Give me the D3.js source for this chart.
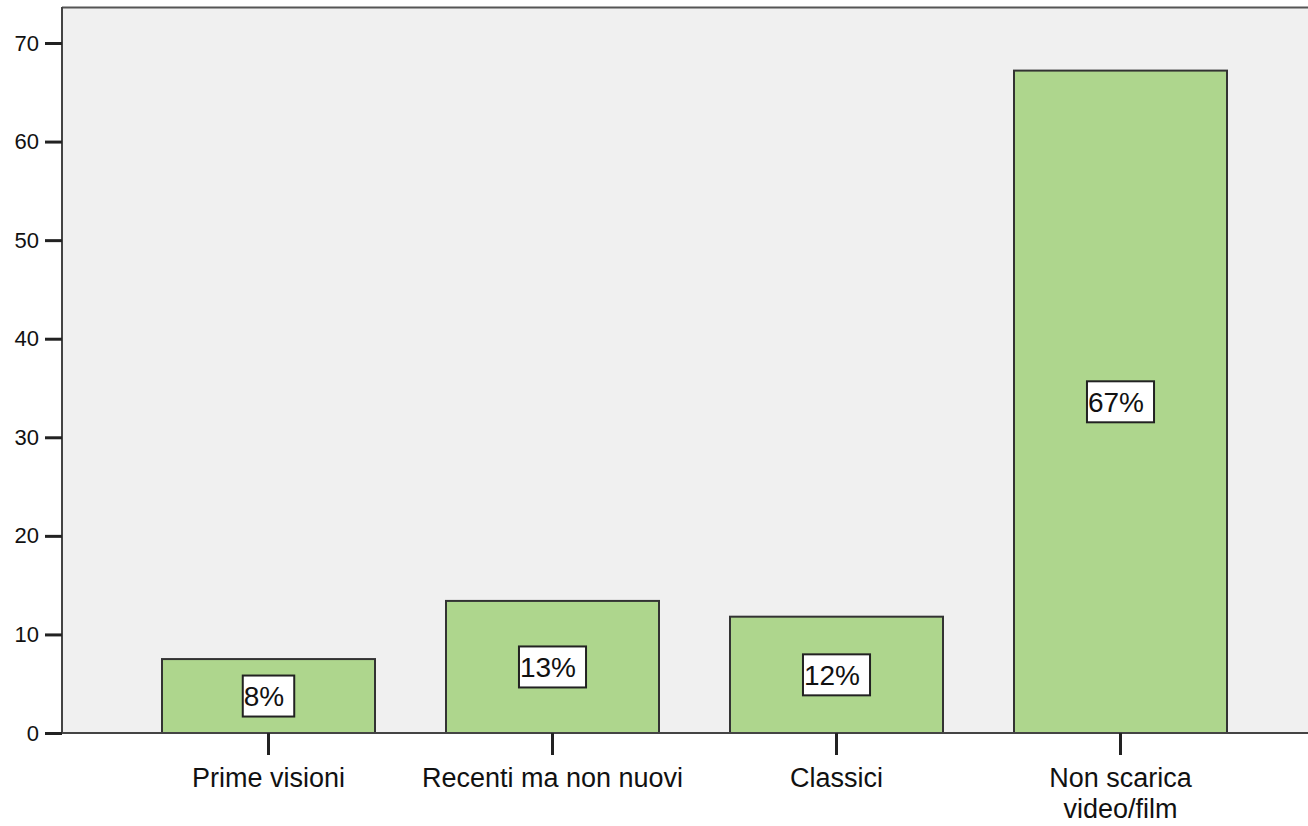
<!DOCTYPE html>
<html><head><meta charset="utf-8">
<script src="https://cdn.jsdelivr.net/npm/d3@7"></script>
<style>
html,body{margin:0;padding:0;background:#fff;}
svg{display:block;font-family:"Liberation Sans",Arial,sans-serif;}
</style></head>
<body>
<svg id="c" width="1308" height="826"></svg>
<script>
const categories = ["Prime visioni", "Recenti ma non nuovi", "Classici", "Non scarica\nvideo/film"];
const values = [7.5, 13.4, 11.8, 67.2];
const pctLabels = ["8%", "13%", "12%", "67%"];
const yTicks = [0, 10, 20, 30, 40, 50, 60, 70];

const svg = d3.select("#c");
const plot = {left: 62, top: 7, right: 1310, bottom: 733};

const x = d3.scaleBand().domain(categories).range([126.5, 1262.5]).paddingInner(0.25).paddingOuter(0.125);
const y = d3.scaleLinear().domain([0, 70]).range([733, 43]);

// background
svg.append("rect").attr("x", plot.left).attr("y", plot.top)
  .attr("width", plot.right - plot.left).attr("height", plot.bottom - plot.top)
  .attr("fill", "#f0f0f0");
svg.append("line").attr("x1", plot.left).attr("x2", plot.right).attr("y1", plot.top + 0.5).attr("y2", plot.top + 0.5)
  .attr("stroke", "#555").attr("stroke-width", 2);

// bars
svg.selectAll("rect.bar").data(categories).join("rect").attr("class", "bar")
  .attr("x", d => x(d)).attr("width", x.bandwidth())
  .attr("y", (d, i) => y(values[i])).attr("height", (d, i) => y(0) - y(values[i]))
  .attr("fill", "#aed68d").attr("stroke", "#333").attr("stroke-width", 2);

// y axis
const yAxis = d3.axisLeft(y).tickValues(yTicks).tickSize(17).tickPadding(6).tickFormat(d3.format("d"));
const ya = svg.append("g").attr("transform", `translate(${plot.left},0)`).call(yAxis);
ya.select(".domain").attr("d", `M0,${plot.top}V${plot.bottom}`).attr("stroke", "#444").attr("stroke-width", 2);
ya.selectAll(".tick line").attr("stroke", "#222").attr("stroke-width", 3);
ya.selectAll(".tick text").attr("font-size", 22).attr("fill", "#111").attr("font-family", "Liberation Sans, Arial, sans-serif");

// x axis
const xAxis = d3.axisBottom(x).tickSize(22).tickPadding(0).tickFormat("");
const xa = svg.append("g").attr("transform", `translate(0,${plot.bottom})`).call(xAxis);
xa.select(".domain").attr("d", `M${plot.left},0H${plot.right}`).attr("stroke", "#444").attr("stroke-width", 2);
xa.selectAll(".tick line").attr("stroke", "#222").attr("stroke-width", 3);
xa.selectAll(".tick").each(function(d) {
  const lines = d.split("\n");
  const t = d3.select(this).append("text").attr("fill", "#111").attr("font-size", 27)
    .attr("text-anchor", "middle").attr("font-family", "Liberation Sans, Arial, sans-serif");
  lines.forEach((l, i) => t.append("tspan").attr("x", 0).attr("y", 54 + i * 31).text(l));
});

// value labels
categories.forEach((c, i) => {
  const cx = x(c) + x.bandwidth() / 2;
  const cy = (y(values[i]) + y(0)) / 2;
  const g = svg.append("g");
  const t = g.append("text").attr("font-size", 28).attr("fill", "#111")
    .attr("font-family", "Liberation Sans, Arial, sans-serif").text(pctLabels[i]);
  const w = t.node().getComputedTextLength();
  const bw = w + 11, bh = 41;
  g.insert("rect", "text").attr("x", cx - bw / 2).attr("y", cy - bh / 2).attr("width", bw).attr("height", bh)
    .attr("fill", "#fff").attr("stroke", "#222").attr("stroke-width", 2);
  t.attr("x", cx - bw / 2 + 1).attr("y", cy + 10);
});
</script>
</body></html>
